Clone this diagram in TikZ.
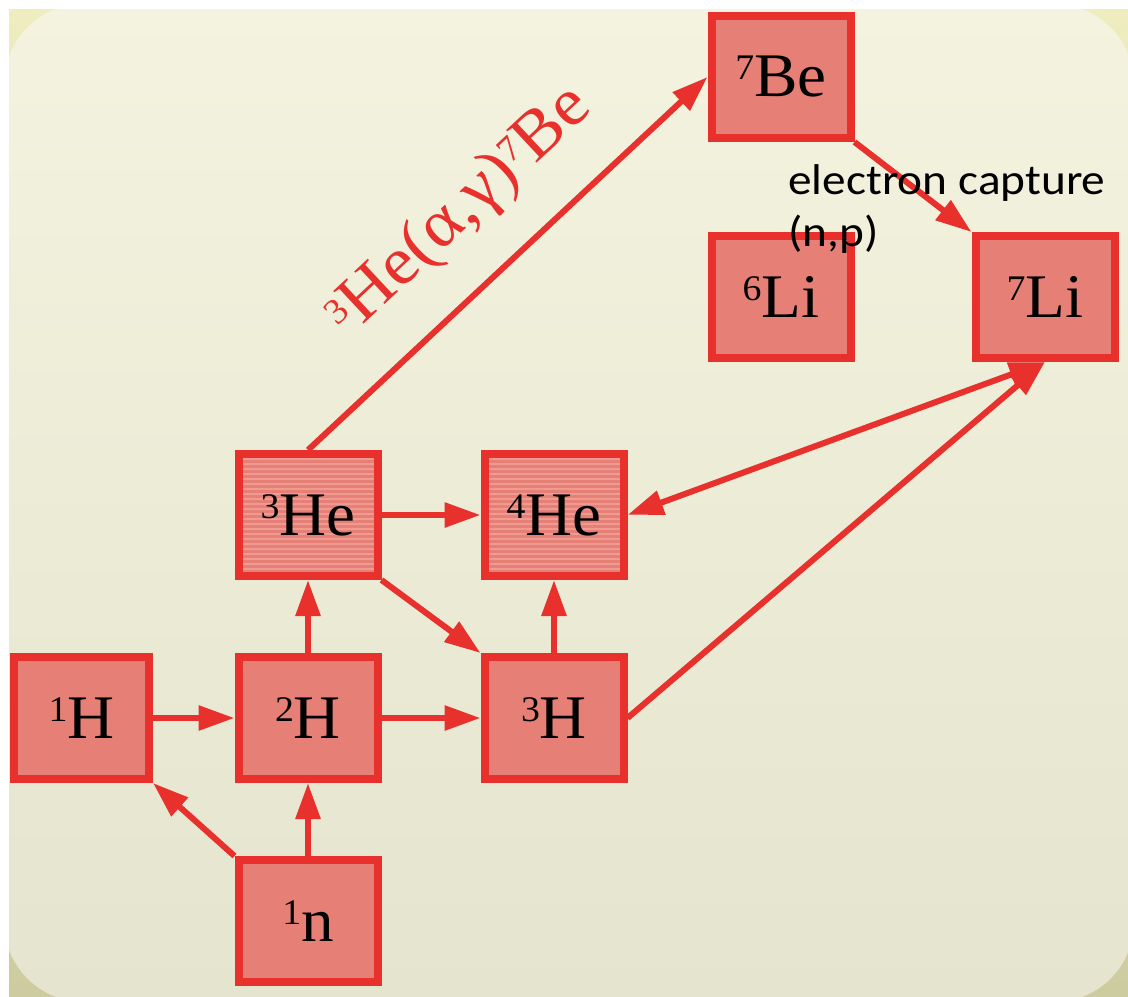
\documentclass[tikz,border=0pt]{standalone}
\usepackage{fontspec}
\setmainfont[FakeStretch=1.05]{Liberation Serif}
\newfontfamily\notefont[FakeStretch=1.1]{Carlito}
\usetikzlibrary{arrows.meta}
\definecolor{isored}{RGB}{232,48,45}
\definecolor{isofill}{RGB}{230,128,118}
\definecolor{isostripe}{RGB}{240,155,145}
\definecolor{bgtop}{RGB}{244,243,223}
\definecolor{bgmid}{RGB}{252,251,229}
\definecolor{bgbot}{RGB}{229,228,206}
\definecolor{cornertop}{RGB}{238,237,192}
\definecolor{cornerbot}{RGB}{204,204,160}
\newcommand{\nuc}[2]{\raisebox{8.5pt}{\fontsize{18}{20}\selectfont#1}#2}
\tikzset{
  isobox/.style={draw=isored, fill=isofill, line width=4pt,
    minimum width=69.5pt, minimum height=61pt, inner sep=0pt,
    font=\fontsize{31}{33}\selectfont},
  hebox/.style={isobox, path picture={
    \foreach \k in {1,...,30}
      \draw[isostripe, line width=0.8pt]
        ([yshift=-\k*2.5pt]path picture bounding box.north west) -- ++(80pt,0);}},
  flow/.style={draw=isored, line width=3pt, -{Triangle[length=18pt,width=12pt]}},
}

\begin{document}
\begin{tikzpicture}[x=0.5pt, y=-0.5pt]
    % background panel
    \useasboundingbox (0,0) rectangle (1128,996);
    \fill[white] (0,0) rectangle (1128,996);
    \shade[top color=cornertop, bottom color=cornerbot] (9,9) rectangle (1128,996);
    \begin{scope}
      \clip (9,9) rectangle (1128,996);
      \shade[top color=bgtop, middle color=bgmid, bottom color=bgbot,
        rounded corners=40pt] (4,4) rectangle (1134,1002);
    \end{scope}

    % isotopes
    \node[isobox] (be7) at (781,77) {\nuc{7}{Be}};
    \node[isobox] (li6) at (781,297) {\nuc{6}{Li}};
    \node[isobox] (li7) at (1045,297) {\nuc{7}{Li}};
    \node[hebox] (he3) at (308,515) {\nuc{3}{He}};
    \node[hebox] (he4) at (554,515) {\nuc{4}{He}};
    \node[isobox, minimum width=67.5pt] (h1) at (81.5,718) {\nuc{1}{H}};
    \node[isobox] (h2) at (308,718) {\nuc{2}{H}};
    \node[isobox] (h3) at (554,718) {\nuc{3}{H}};
    \node[isobox] (n1) at (308,921) {\nuc{1}{n}};

    % reactions
    \draw[flow] (h1) -- (h2);
    \draw[flow] (h2) -- (h3);
    \draw[flow] (n1.north west) -- (h1.south east);
    \draw[flow] (n1) -- (h2);
    \draw[flow] (h2) -- (he3);
    \draw[flow] (h3) -- (he4);
    \draw[flow] (he3) -- (he4);
    \draw[flow] (he3.south east) -- (h3.north west);
    \draw[flow] (h3.east) -- (li7.south);
    \draw[flow, {Triangle[length=18pt,width=12pt]}-{Triangle[length=18pt,width=12pt]}]
      (he4.east) -- (li7.south);
    \draw[flow] (he3.north) -- node[sloped, above=18pt, inner sep=0pt, text=isored,
      font=\fontsize{34}{36}\selectfont] (alphalbl)
      {\nuc{3}{He}(α,γ)\nuc{7}{Be}} (be7.west);
    \draw[flow] (be7.south east) -- (li7.north west);

    \node[anchor=north west, align=left, inner sep=0pt,
      font=\notefont\fontsize{21.5}{26}\selectfont] (ecnote) at (788,164)
      {electron capture\\(n,p)};
\end{tikzpicture}
\end{document}
